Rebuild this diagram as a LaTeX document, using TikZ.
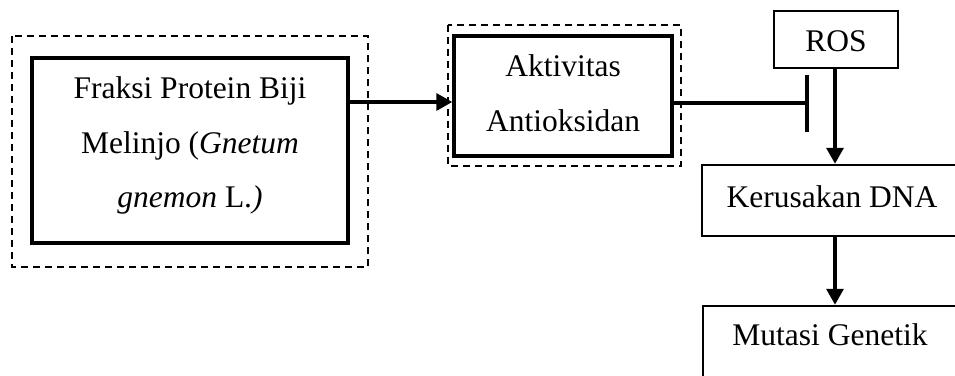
\documentclass[tikz,border=0pt]{standalone}
\usepackage{fontspec}
\setmainfont{Liberation Serif}
\usetikzlibrary{arrows.meta}
\begin{document}
\begin{tikzpicture}[x=1pt,y=-1pt,
  box/.style={draw,line width=#1,inner sep=0pt,fill=none},
  box/.default=3.4pt,
  dashbox/.style={draw,line width=2pt,dash pattern=on 7pt off 5pt},
  txt/.style={anchor=base,inner sep=0pt,font=\fontsize{31.5}{36}\selectfont},
  arr/.style={line width=3.4pt,-{Triangle[length=16pt,width=17pt]}},
  inh/.style={line width=3.4pt,-{Bar[width=57pt,line width=4.5pt]}}]
\useasboundingbox (0,0) rectangle (955,375);
\clip (0,0) rectangle (955,375);
% outer dashed frames
\draw[dashbox] (12,36) rectangle (368,267);
\draw[dashbox] (448,25) rectangle (681,166);
% boxes
\node[box, minimum width=316pt, minimum height=185pt] (fraksi) at (190,150.5) {};
\node[box, minimum width=218pt, minimum height=120pt] (aktiv) at (563,96) {};
\node[box=1.6pt, minimum width=124pt, minimum height=57pt] (ros) at (836,39.5) {};
\node[box=2.5pt, minimum width=260pt, minimum height=71pt] (ker) at (832,200.5) {};
\node[box=2.5pt, minimum width=254pt, minimum height=72pt] (mut) at (830,342) {};
% texts
\node[txt] (t1) at (190,98) {Fraksi Protein Biji};
\node[txt] (t2) at (190,153) {Melinjo (\textit{Gnetum}};
\node[txt] (t3) at (190,207.5) {\textit{gnemon} L.\textit{)}};
\node[txt] (t4) at (563,76.5) {Aktivitas};
\node[txt] (t5) at (563,131.5) {Antioksidan};
\node[txt] (t6) at (836,51.5) {ROS};
\node[txt] (t7) at (832,207) {Kerusakan DNA};
\node[txt] (t8) at (830,345) {Mutasi Genetik};
% connectors
\coordinate (ay) at (0,102);
\coordinate (bar) at (809,103);
\draw[arr] (fraksi.east |- ay) -- (aktiv.west |- ay);
\draw[inh] (aktiv.east |- bar) -- (bar);
\draw[arr] (ros.south -| 835,0) -- (ker.north -| 835,0);
\draw[arr] (ker.south -| 835,0) -- (mut.north -| 835,0);
\end{tikzpicture}
\end{document}
